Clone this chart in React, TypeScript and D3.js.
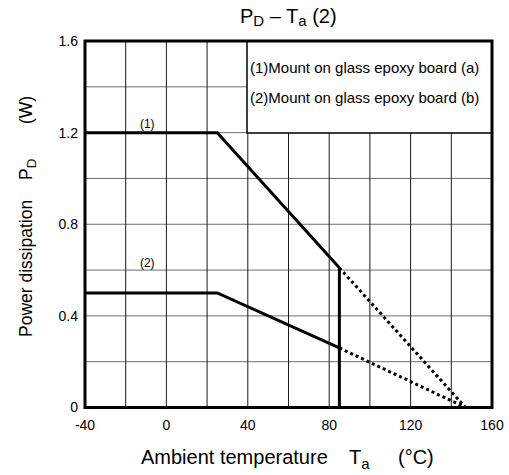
import React from "react";
import * as d3 from "d3";

// Ambient temperature (°C) / power dissipation (W) break points
const mount1Solid: [number, number][] = [
  [-40, 1.2],
  [25, 1.2],
  [85, 0.61],
  [85, 0],
];
const mount1Dotted: [number, number][] = [
  [85, 0.61],
  [147, 0],
];
const mount2Solid: [number, number][] = [
  [-40, 0.5],
  [25, 0.5],
  [85, 0.26],
];
const mount2Dotted: [number, number][] = [
  [85, 0.26],
  [147, 0],
];

const xTickLabels = [-40, 0, 40, 80, 120, 160];
const yTickLabels = [0, 0.4, 0.8, 1.2, 1.6];
const xGrid = [-20, 0, 20, 40, 60, 80, 100, 120, 140];
const yGrid = [0.2, 0.4, 0.6, 0.8, 1.0, 1.2, 1.4];
const legendItems = [
  "(1)Mount on glass epoxy board (a)",
  "(2)Mount on glass epoxy board (b)",
];
// curve tags, placed in data coordinates (text baseline)
const curveTags = [
  { text: "(1)", t: -13, p: 1.22 },
  { text: "(2)", t: -13, p: 0.615 },
];

const W = 509;
const H = 475;
const FONT = "Liberation Sans, Arial, sans-serif";

export default function App() {
  const x = d3.scaleLinear().domain([-40, 160]).range([85, 492]);
  const y = d3.scaleLinear().domain([0, 1.6]).range([407.5, 41]);
  const line = d3
    .line<[number, number]>()
    .x((d) => x(d[0]))
    .y((d) => y(d[1]));

  const [x0, x1] = x.range();
  const [yb, yt] = y.range();

  return (
    <svg
      width={W}
      height={H}
      style={{ position: "absolute", left: 0, top: 0, background: "#fff" }}
      fontFamily={FONT}
    >
      {/* grid */}
      {yGrid.map((v) => (
        <line key={"h" + v} x1={x0} x2={x1} y1={y(v)} y2={y(v)} stroke="#6e6e6e" strokeWidth={1} />
      ))}
      {xGrid.map((v) => (
        <line key={"v" + v} x1={x(v)} x2={x(v)} y1={yt} y2={yb} stroke="#1a1a1a" strokeWidth={1} />
      ))}

      {/* derating curves */}
      <path d={line(mount1Solid) || ""} fill="none" stroke="#000" strokeWidth={3} />
      <path d={line(mount2Solid) || ""} fill="none" stroke="#000" strokeWidth={3} />
      <path d={line(mount1Dotted) || ""} fill="none" stroke="#000" strokeWidth={3} strokeDasharray="3 3" />
      <path d={line(mount2Dotted) || ""} fill="none" stroke="#000" strokeWidth={3} strokeDasharray="3 3" />

      {curveTags.map((c) => (
        <text key={c.text} x={x(c.t)} y={y(c.p)} fontSize={12} fill="#000">
          {c.text}
        </text>
      ))}

      {/* legend */}
      <rect x={247} y={yt} width={x1 - 247} height={92} fill="#fff" stroke="#000" strokeWidth={1.5} />
      {legendItems.map((s, i) => (
        <text key={s} x={250} y={73 + i * 30} fontSize={15} fill="#000">
          {s}
        </text>
      ))}

      {/* frame */}
      <rect x={x0} y={yt} width={x1 - x0} height={yb - yt} fill="none" stroke="#000" strokeWidth={3} />

      {/* tick labels */}
      {yTickLabels.map((v) => (
        <text key={"yl" + v} x={78} y={y(v)} dy="0.35em" textAnchor="end" fontSize={14} fill="#000">
          {v === 0 ? "0" : v.toFixed(1)}
        </text>
      ))}
      {xTickLabels.map((v) => (
        <text key={"xl" + v} x={x(v)} y={430} textAnchor="middle" fontSize={14} fill="#000">
          {v}
        </text>
      ))}

      {/* title */}
      <text x={240} y={23} fontSize={20} fill="#000">
        P<tspan fontSize={15} dy={3}>D</tspan>
        <tspan dy={-3}> – T</tspan>
        <tspan fontSize={15} dy={3}>a</tspan>
        <tspan dy={-3}> (2)</tspan>
      </text>

      {/* x axis label */}
      <text x={141} y={464} fontSize={20} fill="#000">
        Ambient temperature
      </text>
      <text x={349} y={464} fontSize={20} fill="#000">
        T<tspan fontSize={15} dy={5}>a</tspan>
      </text>
      <text x={398} y={464} fontSize={20} fill="#000">
        (°C)
      </text>

      {/* y axis label */}
      <g transform="translate(32,0) rotate(-90)">
        <text x={-337} y={0} fontSize={17.5} fill="#000">
          Power dissipation
        </text>
        <text x={-180} y={0} fontSize={17.5} fill="#000">
          P<tspan fontSize={13.5} dy={4}>D</tspan>
        </text>
        <text x={-124} y={0} fontSize={17.5} fill="#000">
          (W)
        </text>
      </g>
    </svg>
  );
}
